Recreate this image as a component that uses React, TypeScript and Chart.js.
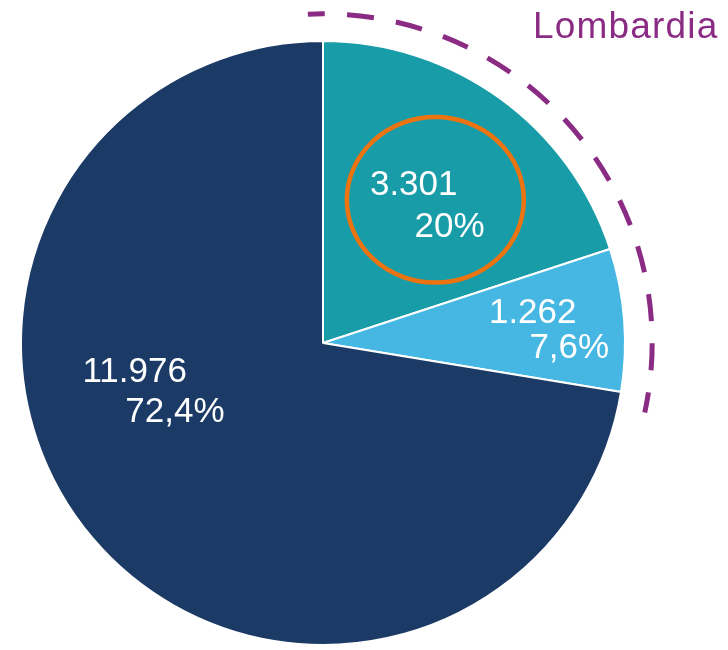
import React, { useEffect, useRef } from "react";
import { Chart, registerables } from "chart.js";

Chart.register(...registerables);

const categories = ["Lombardia A", "Lombardia B", "Altro"];
const values = [3301, 1262, 11976];
const percentLabels = ["20%", "7,6%", "72,4%"];
const colors = ["#189CA8", "#46B7E2", "#1B3A65"];
const groupTitle = "Lombardia";

function fmt(n: number): string {
  return String(n).replace(/\B(?=(\d{3})+(?!\d))/g, ".");
}

// label placement relative to pie centre, as fraction of radius: [line1 dx, line1 dy, line2 dx, line2 dy]
const labelLayout = [
  [0.162, -0.49, 0.31, -0.351],
  [0.556, -0.066, 0.69, 0.05],
  [-0.79, 0.129, -0.648, 0.262],
];

const overlayPlugin = {
  id: "overlay",
  afterDatasetsDraw(chart: any) {
    const ctx = chart.ctx;
    const meta = chart.getDatasetMeta(0);
    const arcs = meta.data;
    const cx = arcs[0].x;
    const cy = arcs[0].y;
    const R = arcs[0].outerRadius;
    ctx.save();
    // labels
    ctx.fillStyle = "#ffffff";
    ctx.font = "35px 'Liberation Sans', Arial, sans-serif";
    ctx.textAlign = "left";
    ctx.textBaseline = "alphabetic";
    arcs.forEach((a: any, i: number) => {
      const l = labelLayout[i];
      ctx.fillText(fmt(values[i]), cx + l[0] * R - 2, cy + l[1] * R);
      ctx.fillText(percentLabels[i], cx + l[2] * R - 2, cy + l[3] * R);
    });
    // orange highlight ellipse around first label
    ctx.strokeStyle = "#EC7410";
    ctx.lineWidth = 4.5;
    ctx.beginPath();
    ctx.ellipse(cx + 0.372 * R, cy - 0.474 * R, 0.293 * R, 0.274 * R, 0, 0, Math.PI * 2);
    ctx.stroke();
    // dashed purple arc around the Lombardia slices
    const start = arcs[0].startAngle - 0.046;
    const end = arcs[1].endAngle + 0.05;
    ctx.strokeStyle = "#8B2C84";
    ctx.lineWidth = 5;
    ctx.setLineDash([27, 22.3]);
    ctx.lineDashOffset = 10;
    ctx.beginPath();
    ctx.arc(cx, cy, R * 1.09, start, end);
    ctx.stroke();
    ctx.setLineDash([]);
    // title
    ctx.fillStyle = "#8B2C84";
    ctx.font = "37px 'Liberation Sans', Arial, sans-serif";
    try {
      (ctx as any).letterSpacing = "1.2px";
    } catch (e) {}
    ctx.fillText(groupTitle, cx + 0.695 * R, cy - 1.01 * R);
    ctx.restore();
  },
};

export default function App() {
  const ref = useRef<HTMLCanvasElement | null>(null);
  useEffect(() => {
    document.body.style.margin = "0";
    const chart = new Chart(ref.current as HTMLCanvasElement, {
      type: "pie",
      data: {
        labels: categories,
        datasets: [
          {
            data: values,
            backgroundColor: colors,
            borderColor: "#ffffff",
            borderWidth: 2,
          },
        ],
      },
      options: {
        responsive: false,
        animation: false,
        radius: 302,
        layout: { padding: { left: 21, right: 103, top: 41, bottom: 5 } },
        plugins: {
          legend: { display: false },
          tooltip: { enabled: false },
        },
      } as any,
      plugins: [overlayPlugin],
    });
    return () => chart.destroy();
  }, []);
  return (
    <div style={{ width: 728, height: 650, background: "#ffffff" }}>
      <canvas ref={ref} width={728} height={650} />
    </div>
  );
}
